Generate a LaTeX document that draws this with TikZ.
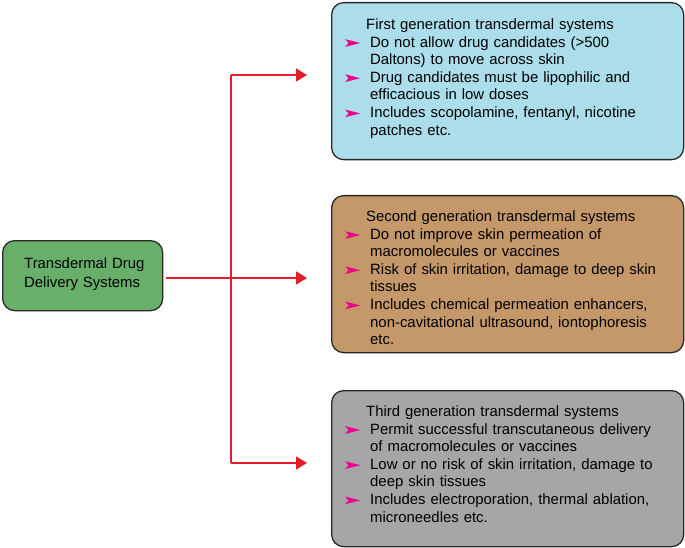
\documentclass[tikz,border=0pt]{standalone}
\usepackage{fontspec}
\setmainfont{Liberation Sans}
\usetikzlibrary{arrows.meta}
\definecolor{boxblue}{RGB}{172,221,234}
\definecolor{boxtan}{RGB}{197,152,106}
\definecolor{boxgray}{RGB}{166,166,169}
\definecolor{boxgreen}{RGB}{104,176,106}
\definecolor{edgegray}{RGB}{40,40,40}
\definecolor{linkred}{RGB}{228,30,40}
\definecolor{bulletmag}{RGB}{236,0,140}
\newcommand{\bulmark}{\tikz[baseline=-0.3pt]\fill[bulletmag] (0,0) -- (15pt,3.8pt) -- (0,7.6pt) -- (3.4pt,3.8pt) -- cycle;}
\newcommand{\itm}[1]{\par\noindent\hangindent=25pt\hangafter=1\makebox[25pt][l]{\bulmark}#1\par}
\newcommand{\ttl}[1]{\noindent\hspace*{21pt}#1\par}
\tikzset{
  genbox/.style={draw=edgegray, line width=1.3pt, rounded corners=12pt, minimum width=352pt, inner sep=0pt},
  boxtext/.style={anchor=north west, inner sep=0pt, text width=335pt, align=left,
    font=\fontsize{14.9}{17.6}\selectfont},
  link/.style={draw=linkred, line width=1.5pt},
  linkarrow/.style={link, -{Triangle[length=11pt,width=13pt]}}
}
\begin{document}
\begin{tikzpicture}[x=1pt,y=-1pt]
\useasboundingbox (0,0) rectangle (685,548);
% source
\node[genbox, fill=boxgreen, minimum width=160pt, minimum height=70pt, anchor=north west] (src) at (2,240) {};
\node[anchor=north west, inner sep=0pt, text width=135pt, align=left, font=\fontsize{14.9}{19}\selectfont] (srct) at (24,257.5) {Transdermal Drug\newline Delivery Systems};
% boxes
\node[genbox, fill=boxblue, minimum height=157pt, anchor=north west] (b1) at (331,2) {};
\node[genbox, fill=boxtan, minimum height=157pt, anchor=north west] (b2) at (331,195) {};
\node[genbox, fill=boxgray, minimum height=156pt, anchor=north west] (b3) at (331,390) {};
\node[boxtext] (t1) at (345,18.5) {\ttl{First generation transdermal systems}
\itm{Do not allow drug candidates (>500\newline Daltons) to move across skin}
\itm{Drug candidates must be lipophilic and\newline efficacious in low doses}
\itm{Includes scopolamine, fentanyl, nicotine\newline patches etc.}};
\node[boxtext] (t2) at (345,210.5) {\ttl{Second generation transdermal systems}
\itm{Do not improve skin permeation of\newline macromolecules or vaccines}
\itm{Risk of skin irritation, damage to deep skin\newline tissues}
\itm{Includes chemical permeation enhancers,\newline non-cavitational ultrasound, iontophoresis\newline etc.}};
\node[boxtext] (t3) at (345,405.5) {\ttl{Third generation transdermal systems}
\itm{Permit successful transcutaneous delivery\newline of macromolecules or vaccines}
\itm{Low or no risk of skin irritation, damage to\newline deep skin tissues}
\itm{Includes electroporation, thermal ablation,\newline microneedles etc.}};
% connectors
\coordinate (j1) at (231,75);
\coordinate (j2) at (231,278);
\coordinate (j3) at (231,463);
\coordinate (e1) at (307,75);
\coordinate (e2) at (307,278);
\coordinate (e3) at (307,463);
\coordinate (s0) at (166,278);
\draw[link] (j1) -- (j3);
\draw[link] (s0) -- (j2);
\draw[linkarrow] (j1) -- (e1);
\draw[linkarrow] (j2) -- (e2);
\draw[linkarrow] (j3) -- (e3);
\end{tikzpicture}
\end{document}
